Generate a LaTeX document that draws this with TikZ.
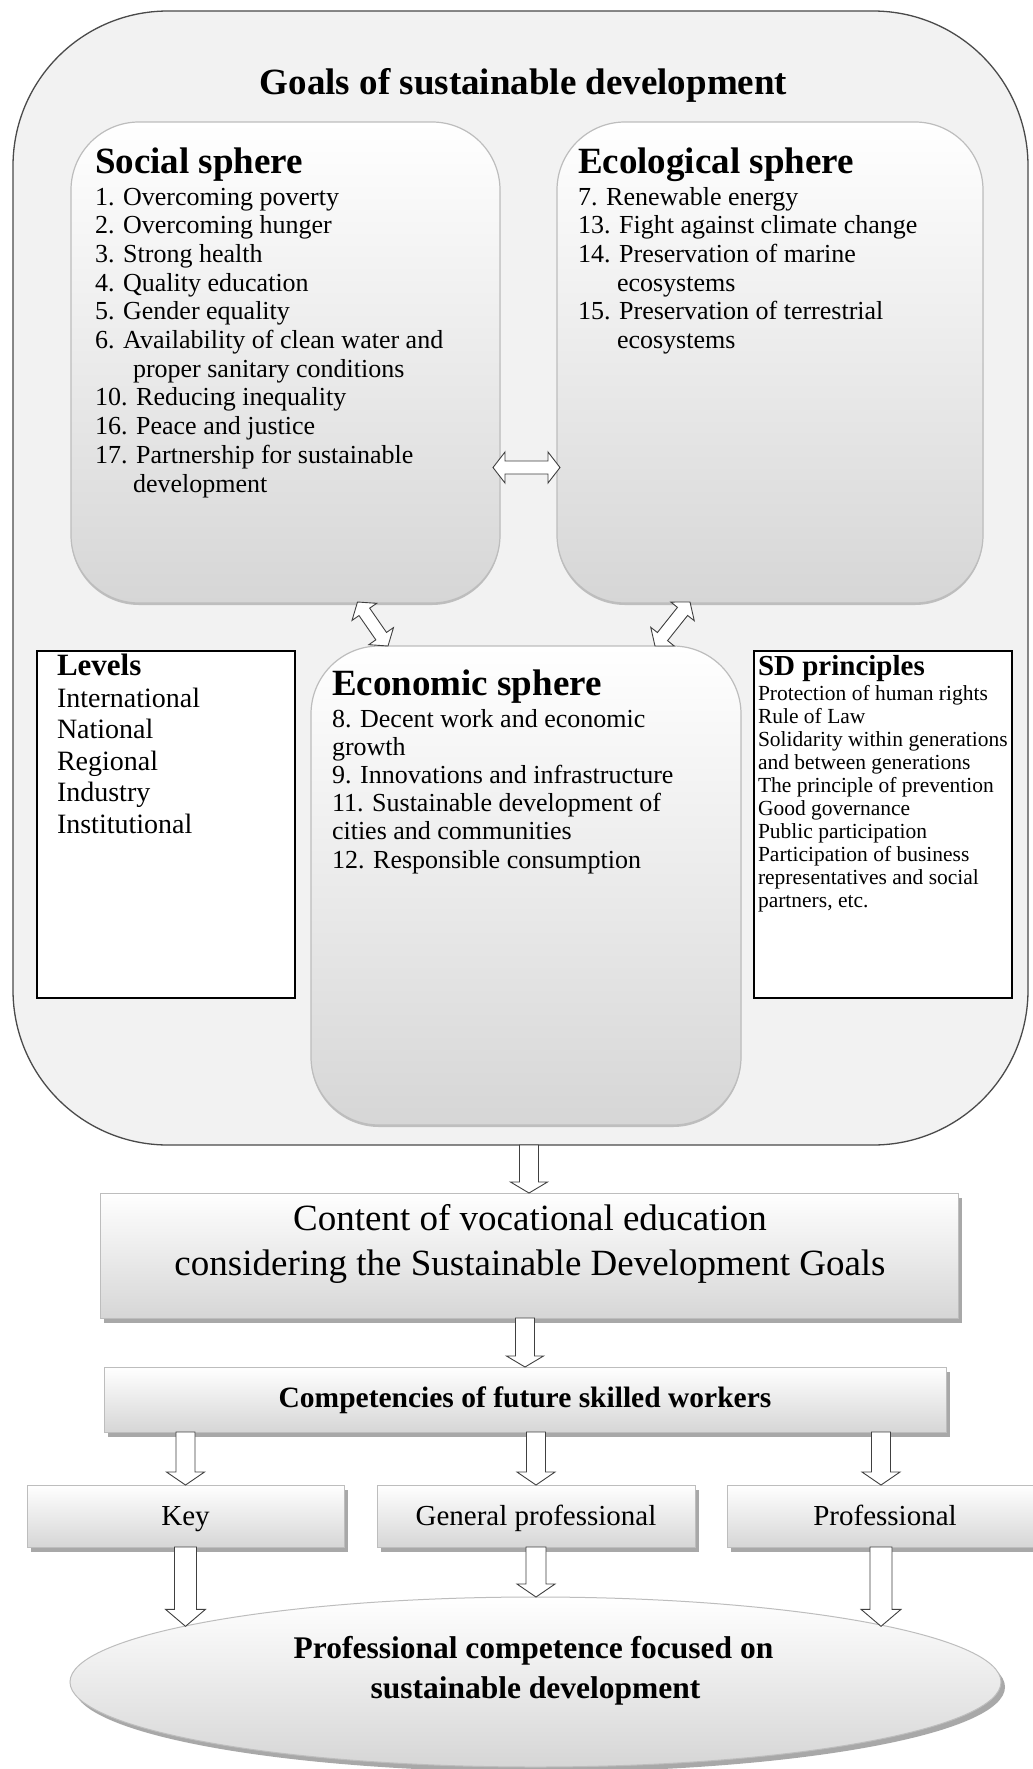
\documentclass[tikz,border=0pt]{standalone}
\usepackage{fontspec}
\setmainfont{Liberation Serif}
\usetikzlibrary{calc,shapes.geometric,shadows}

\definecolor{outerfill}{HTML}{F2F2F2}
\definecolor{outerline}{HTML}{4A4A4A}
\definecolor{boxline}{HTML}{BDBDBD}
\definecolor{gradbot}{HTML}{D6D6D6}
\definecolor{arrline}{HTML}{404040}
\definecolor{shadowc}{HTML}{A8A8A8}

\tikzset{
  base/.style={inner sep=0pt, outer sep=0pt},
  outerbox/.style={base, draw=outerline, fill=outerfill, line width=1.3pt, rounded corners=155pt, anchor=north west},
  spherebox/.style={base, draw=boxline, line width=1.2pt, top color=white, bottom color=gradbot, rounded corners=68pt, anchor=north west,
     drop shadow={shadow xshift=0pt, shadow yshift=-2pt, fill=shadowc, opacity=0.7}},
  listbox/.style={base, draw=black, fill=white, line width=1.4pt, anchor=north west},
  flatbox/.style={base, draw=boxline, line width=1pt, top color=white, bottom color=gradbot, anchor=north west,
     drop shadow={shadow xshift=4pt, shadow yshift=-5pt, fill=shadowc, opacity=1}},
  ellbox/.style={base, ellipse, draw=boxline, line width=1pt, top color=white, bottom color=gradbot,
     drop shadow={shadow xshift=4pt, shadow yshift=-5pt, fill=shadowc, opacity=1}},
  titletext/.style={base, anchor=base, font=\fontsize{37}{40}\selectfont\bfseries},
  headtext/.style={base, anchor=base west, font=\fontsize{37}{40}\selectfont\bfseries},
  itemtext/.style={base, anchor=base west, font=\fontsize{26}{28}\selectfont},
  lvlhead/.style={base, anchor=base west, font=\fontsize{31}{33}\selectfont\bfseries},
  lvltext/.style={base, anchor=base west, font=\fontsize{28}{30}\selectfont},
  sdhead/.style={base, anchor=base west, font=\fontsize{29}{31}\selectfont\bfseries},
  sdtext/.style={base, anchor=base west, font=\fontsize{21.5}{23}\selectfont},
  bigtext/.style={base, anchor=base, font=\fontsize{37}{40}\selectfont},
  comptext/.style={base, anchor=base, font=\fontsize{29.5}{32}\selectfont\bfseries},
  smalltext/.style={base, anchor=base, font=\fontsize{29}{31}\selectfont},
  elltext/.style={base, anchor=base, font=\fontsize{31.5}{34}\selectfont\bfseries},
  blk/.style={draw=arrline, fill=white, line width=0.9pt, line join=miter},
  sblk/.style n args={3}{to path={
    ($(\tikztostart)!#1!90:(\tikztotarget)$)
    -- ($($(\tikztotarget)!#3!(\tikztostart)$)!#1!90:(\tikztotarget)$)
    -- ($($(\tikztotarget)!#3!(\tikztostart)$)!#2!90:(\tikztotarget)$)
    -- (\tikztotarget)
    -- ($($(\tikztotarget)!#3!(\tikztostart)$)!#2!-90:(\tikztotarget)$)
    -- ($($(\tikztotarget)!#3!(\tikztostart)$)!#1!-90:(\tikztotarget)$)
    -- ($(\tikztostart)!#1!-90:(\tikztotarget)$) -- cycle}},
  dblk/.style n args={3}{to path={
    (\tikztostart)
    -- ($($(\tikztostart)!#3!(\tikztotarget)$)!#2!90:(\tikztotarget)$)
    -- ($($(\tikztostart)!#3!(\tikztotarget)$)!#1!90:(\tikztotarget)$)
    -- ($($(\tikztotarget)!#3!(\tikztostart)$)!#1!90:(\tikztotarget)$)
    -- ($($(\tikztotarget)!#3!(\tikztostart)$)!#2!90:(\tikztotarget)$)
    -- (\tikztotarget)
    -- ($($(\tikztotarget)!#3!(\tikztostart)$)!#2!-90:(\tikztotarget)$)
    -- ($($(\tikztotarget)!#3!(\tikztostart)$)!#1!-90:(\tikztotarget)$)
    -- ($($(\tikztostart)!#3!(\tikztotarget)$)!#1!-90:(\tikztotarget)$)
    -- ($($(\tikztostart)!#3!(\tikztotarget)$)!#2!-90:(\tikztotarget)$)
    -- cycle}}
}

\begin{document}
\begin{tikzpicture}[x=1pt,y=-1pt]
\useasboundingbox[fill=white] (0,0) rectangle (1033,1769);

% outer container
\node[outerbox, minimum width=1015pt, minimum height=1134pt] (outer) at (13,11) {};
\node[titletext] (title) at ($(outer.north)+(3,84)$) {Goals of sustainable development};

% spheres
\node[spherebox, minimum width=429pt, minimum height=481pt] (social) at (71,122) {};
\node[spherebox, minimum width=426pt, minimum height=481pt] (eco) at (557,122) {};
\node[spherebox, minimum width=430pt, minimum height=479pt] (econ) at (311,646) {};
\node[listbox, minimum width=258pt, minimum height=347pt] (levels) at (37,651) {};
\node[listbox, minimum width=258pt, minimum height=347pt] (sd) at (754,651) {};

% social sphere text
\node[headtext] (sochead) at ($(social.north west)+(24,51)$) {Social sphere};
\foreach \t [count=\i] in {1. Overcoming poverty, 2. Overcoming hunger, 3. Strong health,
  4. Quality education, 5. Gender equality, 6. Availability of clean water and,
  \hspace*{38pt}proper sanitary conditions, 10. Reducing inequality, 16. Peace and justice,
  17. Partnership for sustainable, \hspace*{38pt}development}
  \node[itemtext] (soc\i) at ($(social.north west)+(24,{83+28.7*(\i-1)})$) {\t};

% ecological sphere text
\node[headtext] (ecohead) at ($(eco.north west)+(21,51)$) {Ecological sphere};
\foreach \t [count=\i] in {7. Renewable energy, 13. Fight against climate change,
  14. Preservation of marine, \hspace*{39pt}ecosystems, 15. Preservation of terrestrial,
  \hspace*{39pt}ecosystems}
  \node[itemtext] (eco\i) at ($(eco.north west)+(21,{83+28.7*(\i-1)})$) {\t};

% economic sphere text
\node[headtext] (econhead) at ($(econ.north west)+(21,49)$) {Economic sphere};
\foreach \t [count=\i] in {8. Decent work and economic, growth, 9. Innovations and infrastructure,
  11. Sustainable development of, cities and communities, 12. Responsible consumption}
  \node[itemtext] (econ\i) at ($(econ.north west)+(21,{81+28.2*(\i-1)})$) {\t};

% levels
\node[lvlhead] (lvlhead) at ($(levels.north west)+(20,24)$) {Levels};
\foreach \t [count=\i] in {International, National, Regional, Industry, Institutional}
  \node[lvltext] (lvl\i) at ($(levels.north west)+(20,{56+31.5*(\i-1)})$) {\t};

% SD principles
\node[sdhead] (sdhead) at ($(sd.north west)+(4,24)$) {SD principles};
\foreach \t [count=\i] in {Protection of human rights, Rule of Law, Solidarity within generations,
  and between generations, The principle of prevention, Good governance, Public participation,
  Participation of business, representatives and social, {partners, etc.}}
  \node[sdtext] (sd\i) at ($(sd.north west)+(4,{49+23*(\i-1)})$) {\t};

% arrows between spheres
\coordinate (h1) at ($(social.east)+(-7,105)$);
\coordinate (h2) at ($(eco.west)+(3,105)$);
\draw[blk] (h1) to[dblk={6.5pt}{15.5pt}{12pt}] (h2);
\coordinate (d1) at ($(social.south)+(72,-1)$);
\coordinate (d2) at ($(econ.north)+(-138,0)$);
\draw[blk] (d1) to[dblk={6.5pt}{15pt}{12pt}] (d2);
\coordinate (d3) at ($(eco.south)+(-80,-1)$);
\coordinate (d4) at ($(econ.north)+(129,0)$);
\draw[blk] (d3) to[dblk={6.5pt}{15pt}{12pt}] (d4);

% lower flow
\node[flatbox, minimum width=858pt, minimum height=125pt] (content) at (100,1193) {};
\node[bigtext] (cont1) at ($(content.north)+(1,37)$) {Content of vocational education};
\node[bigtext] (cont2) at ($(content.north)+(1,82)$) {considering the Sustainable Development Goals};

\node[flatbox, minimum width=842pt, minimum height=65pt] (comp) at (104,1367) {};
\node[comptext] (comptxt) at ($(comp.north)+(0,40)$) {Competencies of future skilled workers};

\node[flatbox, minimum width=317pt, minimum height=62pt] (key) at (27,1485) {};
\node[flatbox, minimum width=318pt, minimum height=62pt] (gen) at (377,1485) {};
\node[flatbox, minimum width=308pt, minimum height=62pt] (prof) at (727,1485) {};
\node[smalltext] (keytxt) at ($(key.north)+(0,40)$) {Key};
\node[smalltext] (gentxt) at ($(gen.north)+(0,40)$) {General professional};
\node[smalltext] (proftxt) at ($(prof.north)+(4,40)$) {Professional};

\node[ellbox, minimum width=931pt, minimum height=170pt] (ell) at (535.5,1682) {};
\node[elltext] (ell1) at ($(ell.center)+(-2,-24)$) {Professional competence focused on};
\node[elltext] (ell2) at ($(ell.center)+(0,16)$) {sustainable development};

% down block arrows
\coordinate (a1) at (content.north |- outer.south);
\draw[blk] (a1) to[sblk={9.5pt}{18.5pt}{11pt}] (content.north);
\coordinate (a2) at (comp.north |- content.south);
\draw[blk] (a2) to[sblk={9.5pt}{18.5pt}{11pt}] (comp.north);
\coordinate (a3) at (key.north |- comp.south);
\draw[blk] (a3) to[sblk={9.5pt}{19pt}{13pt}] (key.north);
\coordinate (a4) at (gen.north |- comp.south);
\draw[blk] (a4) to[sblk={9.5pt}{19pt}{13pt}] (gen.north);
\coordinate (a5) at (prof.north |- comp.south);
\draw[blk] (a5) to[sblk={9.5pt}{19pt}{13pt}] (prof.north);
\coordinate (b1) at (key.south |- ell.171);
\draw[blk] (key.south) to[sblk={11pt}{20pt}{17pt}] (b1);
\coordinate (b2) at (gen.south |- ell.north);
\draw[blk] (gen.south) to[sblk={10pt}{19pt}{13pt}] (b2);
\coordinate (b3) at (prof.south |- ell.9);
\draw[blk] (prof.south) to[sblk={11pt}{20pt}{17pt}] (b3);
\end{tikzpicture}
\end{document}
